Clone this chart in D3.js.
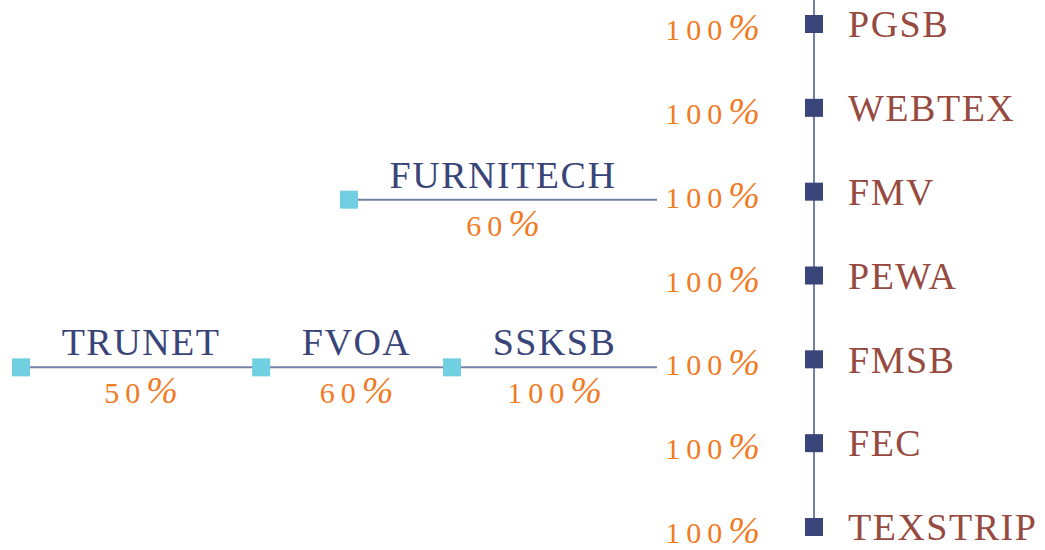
<!DOCTYPE html>
<html>
<head>
<meta charset="utf-8">
<script src="https://cdn.jsdelivr.net/npm/d3@7"></script>
<style>
  body { margin: 0; background: #fff; }
  svg { display: block; }
  text { font-family: "Liberation Serif", "DejaVu Serif", serif; }
</style>
</head>
<body>
<div id="chart"></div>
<script>
// companies on the spine, top to bottom, and the share held in each
const companies = ["PGSB", "WEBTEX", "FMV", "PEWA", "FMSB", "FEC", "TEXSTRIP"];
const ownership = [100, 100, 100, 100, 100, 100, 100];

// upstream chains, listed from the spine outwards
const fmvChainNames = ["FURNITECH"];
const fmvChainShares = [60];
const fmsbChainNames = ["SSKSB", "FVOA", "TRUNET"];
const fmsbChainShares = [100, 60, 50];

const chains = [
  { target: "FMV", names: fmvChainNames, shares: fmvChainShares },
  { target: "FMSB", names: fmsbChainNames, shares: fmsbChainShares }
];

var width = 1045, height = 550;
var navy = "#394578", lineCol = "#7480a6", cyan = "#70cfe0",
    orange = "#f07b24", brown = "#964a40";

var svg = d3.select("#chart")
  .append("svg")
  .attr("width", width)
  .attr("height", height);

var y = d3.scalePoint().domain(companies).range([24, 527]);

var spineX = 814, pctRight = 760, labelX = 848;
var chainEnd = 657, chainStart = 21;

// writes "100%" as small figures plus a tall italic percent sign
function pct(sel, value) {
  sel.append("tspan")
    .attr("font-size", 30)
    .attr("letter-spacing", 6)
    .text(value);
  sel.append("tspan")
    .attr("font-size", 38)
    .attr("font-style", "italic")
    .text("%");
}

// spine
svg.append("line")
  .attr("x1", spineX).attr("x2", spineX)
  .attr("y1", 0).attr("y2", y(companies[companies.length - 1]))
  .attr("stroke", lineCol)
  .attr("stroke-width", 2);

svg.selectAll(".node")
  .data(companies)
  .enter().append("rect")
  .attr("class", "node")
  .attr("x", spineX - 9)
  .attr("y", function (d) { return y(d) - 9; })
  .attr("width", 18)
  .attr("height", 18)
  .attr("fill", navy);

svg.selectAll(".name")
  .data(companies)
  .enter().append("text")
  .attr("class", "name")
  .attr("x", labelX)
  .attr("y", function (d) { return y(d); })
  .attr("dy", "0.35em")
  .attr("font-size", 38)
  .attr("letter-spacing", 1.5)
  .attr("fill", brown)
  .text(function (d) { return d; });

svg.selectAll(".share")
  .data(companies)
  .enter().append("text")
  .attr("class", "share")
  .attr("x", pctRight)
  .attr("y", function (d) { return y(d) + 16; })
  .attr("text-anchor", "end")
  .attr("fill", orange)
  .each(function (d, i) { pct(d3.select(this), ownership[i]); });

// measure chain labels so segment lengths follow the names
var measure = svg.append("text").attr("font-size", 38).attr("letter-spacing", 1.5);
chains.forEach(function (c) {
  c.lens = c.names.map(function (n) {
    measure.text(n);
    return measure.node().getComputedTextLength();
  });
});
measure.remove();

var longest = chains.reduce(function (a, b) { return b.names.length > a.names.length ? b : a; });
var gap = (chainEnd - chainStart - d3.sum(longest.lens)) / longest.names.length;

chains.forEach(function (c) {
  var cy = y(c.target) + 8;
  var right = chainEnd;
  var links = c.names.map(function (n, i) {
    var left = right - c.lens[i] - gap;
    var link = { name: n, share: c.shares[i], x0: left, x1: right };
    right = left;
    return link;
  });

  svg.append("line")
    .attr("x1", links[links.length - 1].x0).attr("x2", chainEnd)
    .attr("y1", cy).attr("y2", cy)
    .attr("stroke", lineCol)
    .attr("stroke-width", 2);

  var g = svg.append("g");

  g.selectAll("rect")
    .data(links)
    .enter().append("rect")
    .attr("x", function (d) { return d.x0 - 9; })
    .attr("y", cy - 9)
    .attr("width", 18)
    .attr("height", 18)
    .attr("fill", cyan);

  g.selectAll(".cname")
    .data(links)
    .enter().append("text")
    .attr("class", "cname")
    .attr("x", function (d) { return (d.x0 + d.x1) / 2; })
    .attr("y", cy - 12)
    .attr("text-anchor", "middle")
    .attr("font-size", 38)
    .attr("letter-spacing", 1.5)
    .attr("fill", navy)
    .text(function (d) { return d.name; });

  g.selectAll(".cshare")
    .data(links)
    .enter().append("text")
    .attr("class", "cshare")
    .attr("x", function (d) { return (d.x0 + d.x1) / 2; })
    .attr("y", cy + 36)
    .attr("text-anchor", "middle")
    .attr("fill", orange)
    .each(function (d) { pct(d3.select(this), d.share); });
});
</script>
</body>
</html>
